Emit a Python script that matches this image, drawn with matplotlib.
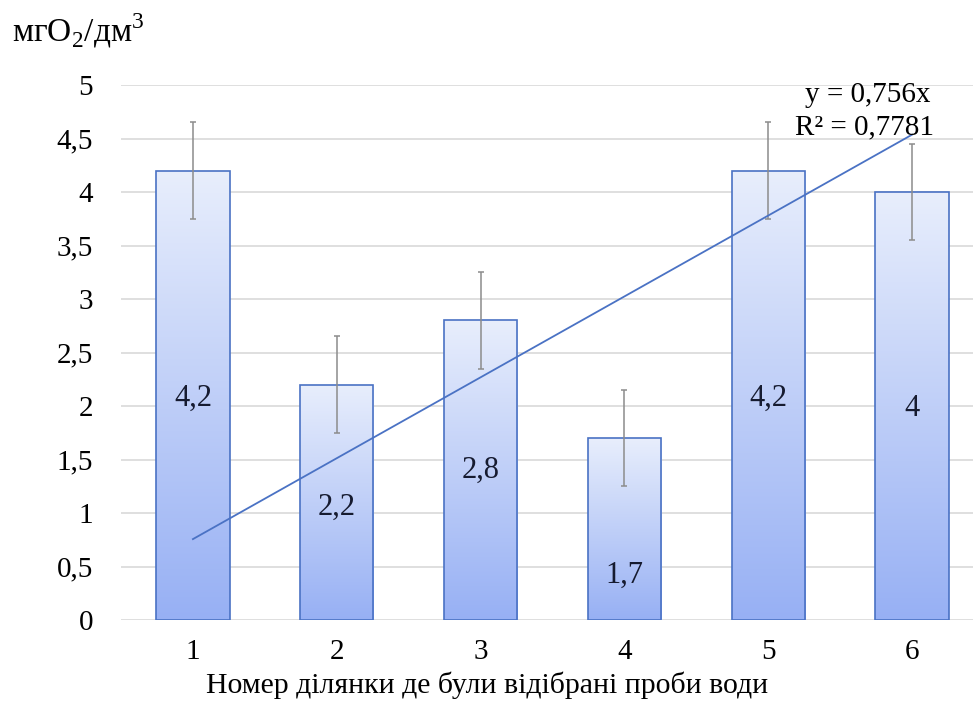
import matplotlib
matplotlib.use("Agg")
import matplotlib.pyplot as plt
import numpy as np
from matplotlib.colors import LinearSegmentedColormap

plt.rcParams["font.family"] = ["Liberation Serif", "DejaVu Serif"]
plt.rcParams["mathtext.fontset"] = "custom"
plt.rcParams["mathtext.rm"] = "Liberation Serif"

# data
sites = [1, 2, 3, 4, 5, 6]
values = [4.2, 2.2, 2.8, 1.7, 4.2, 4.0]
errors = [0.45, 0.45, 0.45, 0.45, 0.45, 0.45]
labels = ["4,2", "2,2", "2,8", "1,7", "4,2", "4"]
trend_slope = 0.756
r2_text = "R² = 0,7781"
eq_text = "y = 0,756x"
ytick_labels = ["0", "0,5", "1", "1,5", "2", "2,5", "3", "3,5", "4", "4,5", "5"]

# label heights inside bars (positions, as in the original)
label_y = [2.07, 1.05, 1.4, 0.42, 2.07, 1.98]

fig = plt.figure(figsize=(9.73, 7.22), dpi=100)
ax = fig.add_axes([121 / 973, 102 / 722, 863 / 973, 535 / 722])

cmap = LinearSegmentedColormap.from_list("grad", ["#e8eefc", "#97b0f4"])
grad = np.linspace(0, 1, 256).reshape(-1, 1)

bars = ax.bar(sites, values, width=0.51, facecolor="none",
              edgecolor="#4a72c4", linewidth=1.2, zorder=3)
for b in bars:
    x0, w, h = b.get_x(), b.get_width(), b.get_height()
    im = ax.imshow(grad, cmap=cmap, aspect="auto",
                   extent=(x0, x0 + w, 0, h), origin="upper", zorder=2)
    im.set_clip_path(b)

ax.errorbar(sites, values, yerr=errors, fmt="none", ecolor="#8c8c8c",
            elinewidth=1.1, capsize=2.5, capthick=1.1, zorder=4)

xs = np.array([sites[0], sites[-1]])
ax.plot(xs, trend_slope * xs, color="#4a72c4", lw=1.3, zorder=5)

for x, y, t in zip(sites, label_y, labels):
    ax.text(x, y, t, ha="center", va="center", fontsize=22,
            color="#161b30", zorder=6)

ax.text(5.69, 4.91, eq_text, ha="center", va="center", fontsize=21, zorder=6)
ax.text(5.67, 4.6, r2_text, ha="center", va="center", fontsize=21, zorder=6)

ax.set_xlim(0.5, 6.5)
ax.set_ylim(0, 5)
ax.set_yticks(np.arange(0, 5.01, 0.5))
ax.set_yticklabels(ytick_labels)
ax.set_xticks(sites)
ax.tick_params(length=0, labelsize=21, pad=14)
ax.tick_params(axis="y", pad=20)
ax.grid(axis="y", color="#d9d9d9", lw=1.2, zorder=0)
ax.set_axisbelow(True)
for s in ax.spines.values():
    s.set_visible(False)

fig.text(487 / 973, 1 - 685 / 722, "Номер ділянки де були відібрані проби води",
         fontsize=21.5, ha="center", va="center")
fig.text(12 / 973, 1 - 42 / 722, r"мгО$_\mathrm{2}$/дм$^\mathrm{3}$", fontsize=24,
         va="baseline", ha="left")

fig.savefig("out.png", dpi=100)
